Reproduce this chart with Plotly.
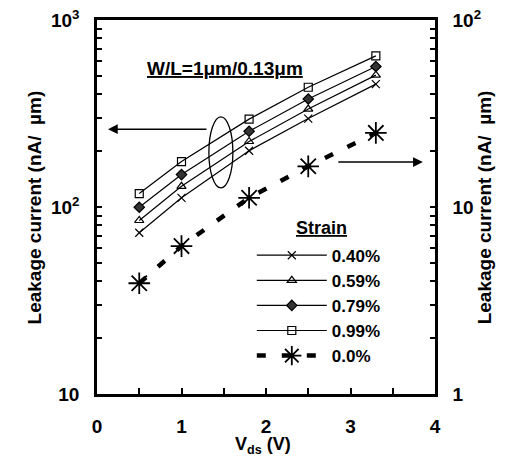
import plotly.graph_objects as go

vds = [0.5, 1.0, 1.8, 2.5, 3.3]
leak_040 = [72.8, 112, 200, 297, 454]
leak_059 = [84.7, 129, 224, 334, 507]
leak_079 = [99.7, 149, 254, 378, 564]
leak_099 = [118, 175, 295, 437, 643]
leak_000 = [3.91, 6.18, 11.2, 16.5, 24.9]

left_ticks = [10, 100, 1000]
left_ticktext = ["10", "10<sup>2</sup>", "10<sup>3</sup>"]
right_ticks = [1, 10, 100]
right_ticktext = ["1", "10", "10<sup>2</sup>"]
x_ticks = [0, 0.5, 1, 1.5, 2, 2.5, 3, 3.5, 4]
x_ticktext = ["0", "", "1", "", "2", "", "3", "", "4"]

FONT = "Liberation Sans"

def log_ticks(lo_exp, hi_exp):
    vals = []
    for e in range(lo_exp, hi_exp):
        for m in range(1, 10):
            vals.append(m * 10 ** e)
    vals.append(10 ** hi_exp)
    return vals

lv = log_ticks(1, 3)
lt = [left_ticktext[left_ticks.index(v)] if v in left_ticks else "" for v in lv]
rv = log_ticks(0, 2)
rt = [right_ticktext[right_ticks.index(v)] if v in right_ticks else "" for v in rv]

fig = go.Figure()
series = [
    ("0.40%", leak_040, "x-thin-open", 8, "black"),
    ("0.59%", leak_059, "triangle-up-open", 8, "black"),
    ("0.79%", leak_079, "diamond", 8, "#333333"),
    ("0.99%", leak_099, "square-open", 8, "black"),
]
for name, ys, sym, sz, col in series:
    fig.add_trace(go.Scatter(
        x=vds, y=ys, name=name, mode="lines+markers",
        line=dict(color="black", width=1.2),
        marker=dict(symbol=sym, size=sz, color=col, line=dict(color="black", width=1.2)),
    ))
fig.add_trace(go.Scatter(
    x=vds, y=leak_000, name="0.0%", mode="lines+markers", yaxis="y2",
    line=dict(color="black", width=4.5, dash="9px,16px"),
    marker=dict(symbol="asterisk-open", size=18, color="black", line=dict(color="black", width=1.8)),
))

common = dict(ticks="inside", tickwidth=2, tickcolor="black",
              showline=True, linewidth=2.5, linecolor="black",
              showgrid=False, zeroline=False, automargin=False,
              ticklabeloverflow="allow",
              tickfont=dict(family=FONT, size=19, weight="bold"))

fig.update_layout(
    width=504, height=448,
    margin=dict(l=89, r=77, t=12, b=62),
    paper_bgcolor="white", plot_bgcolor="white",
    font=dict(family=FONT, color="black", size=18, weight="bold"),
    xaxis=dict(range=[0, 4], tickvals=x_ticks, ticktext=x_ticktext,
               ticklen=6, mirror=True, ticklabelstandoff=13, **common),
    yaxis=dict(type="log", range=[1, 3], tickvals=lv, ticktext=lt,
               ticklen=5, ticklabelstandoff=11, **common),
    yaxis2=dict(type="log", range=[0, 2], tickvals=rv, ticktext=rt,
                overlaying="y", side="right",
                ticklen=5, ticklabelstandoff=11, **common),
    legend=dict(
        x=0.458, y=0.418, xanchor="left", yanchor="top",
        bgcolor="rgba(0,0,0,0)", itemwidth=70,
        font=dict(family=FONT, size=17, weight="bold"),
        tracegroupgap=0,
    ),
    showlegend=True,
)

# axis titles
fig.add_annotation(x=-0.222, y=0.5, xref="paper", yref="paper", text="Leakage current (nA/  µm)",
                   showarrow=False, textangle=-90, font=dict(family=FONT, size=19, weight="bold"))
fig.add_annotation(x=1.183, y=0.5, xref="paper", yref="paper", text="Leakage current (nA/  µm)",
                   showarrow=False, textangle=-90, font=dict(family=FONT, size=19, weight="bold"))
fig.add_annotation(x=0.49, y=-0.137, xref="paper", yref="paper", text="V<sub>ds</sub> (V)",
                   showarrow=False, yanchor="middle", font=dict(family=FONT, size=18, weight="bold"))

fig.add_annotation(x=0.38, y=0.905, xref="paper", yref="paper",
                   text="<u>W/L=1μm/0.13μm</u>", showarrow=False,
                   font=dict(family=FONT, size=19, weight="bold"))
fig.add_annotation(x=0.745, y=0.445, xref="paper", yref="paper",
                   text="<u>Strain</u>", showarrow=False,
                   font=dict(family=FONT, size=18, weight="bold"))
fig.add_shape(type="circle", xref="paper", yref="paper",
              x0=0.331, x1=0.402, y0=0.551, y1=0.741,
              line=dict(color="black", width=1.3))
fig.add_annotation(x=0.0325, y=0.708, ax=100, ay=0,
                   xref="paper", yref="paper", axref="pixel", ayref="pixel",
                   text="", showarrow=True, arrowhead=2, arrowsize=1.3,
                   arrowwidth=1.5, arrowcolor="black")
fig.add_annotation(x=0.964, y=0.620, ax=-86, ay=0,
                   xref="paper", yref="paper", axref="pixel", ayref="pixel",
                   text="", showarrow=True, arrowhead=2, arrowsize=1.3,
                   arrowwidth=1.5, arrowcolor="black")

fig.write_html("out.html")
